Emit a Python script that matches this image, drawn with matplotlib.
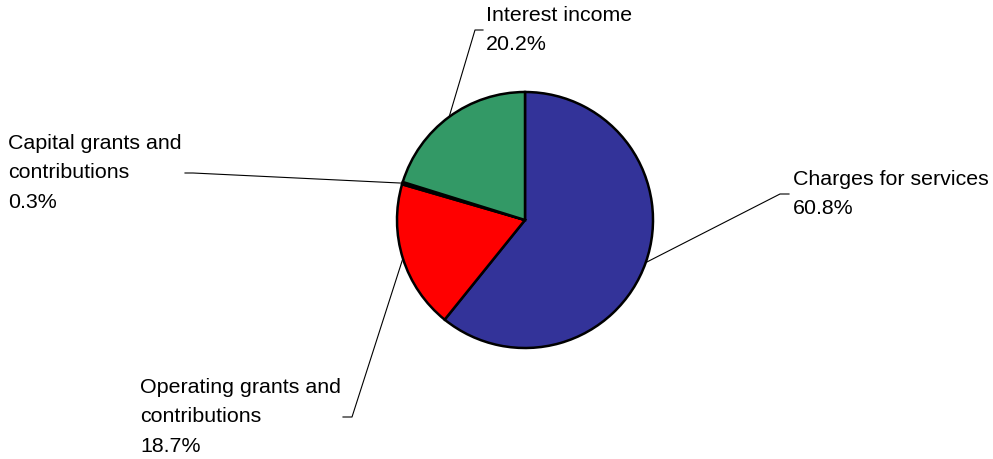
"""
Pie chart of revenue sources with leader-line labels.
"""
import numpy as np
import matplotlib
matplotlib.use('Agg')
import matplotlib.pyplot as plt

W, H = 993, 459

categories = ['Charges for services', 'Operating grants and\ncontributions',
              'Capital grants and\ncontributions', 'Interest income']
shares = [60.8, 18.7, 0.3, 20.2]
colors = ['#333399', '#FF0000', '#1a1a1a', '#339966']

# label layout in pixel coords: (elbow x, elbow y, stub end x, text x)
label_pos = [
    (780, 194, 789, 793),
    (352, 417, 343, 140),
    (193, 173, 185, 8),
    (475, 30, 483, 486),
]


def py(y):
    return H - y


plt.rcParams['font.family'] = ['Liberation Sans', 'DejaVu Sans']

fig = plt.figure(figsize=(W / 100, H / 100), dpi=100)
ax = fig.add_axes([0, 0, 1, 1])

cx, cy, r = 525, py(220), 128
wedges, _ = ax.pie(shares, colors=colors, startangle=90, counterclock=False,
                   center=(cx, cy), radius=r,
                   wedgeprops=dict(edgecolor='black', linewidth=1.8))

ax.set_xlim(0, W)
ax.set_ylim(0, H)
ax.set_aspect('auto')
ax.axis('off')

for w, cat, val, (ex, ey, sx, tx) in zip(wedges, categories, shares, label_pos):
    mid = np.deg2rad((w.theta1 + w.theta2) / 2)
    px, pyy = cx + r * np.cos(mid), cy + r * np.sin(mid)
    ax.plot([px, ex, sx], [pyy, py(ey), py(ey)], color='black', lw=0.8)
    ax.text(tx, py(ey), '%s\n%.1f%%' % (cat, val), ha='left', va='center',
            fontsize=15.4, linespacing=1.68, color='black')

fig.savefig('out.png', dpi=100)
